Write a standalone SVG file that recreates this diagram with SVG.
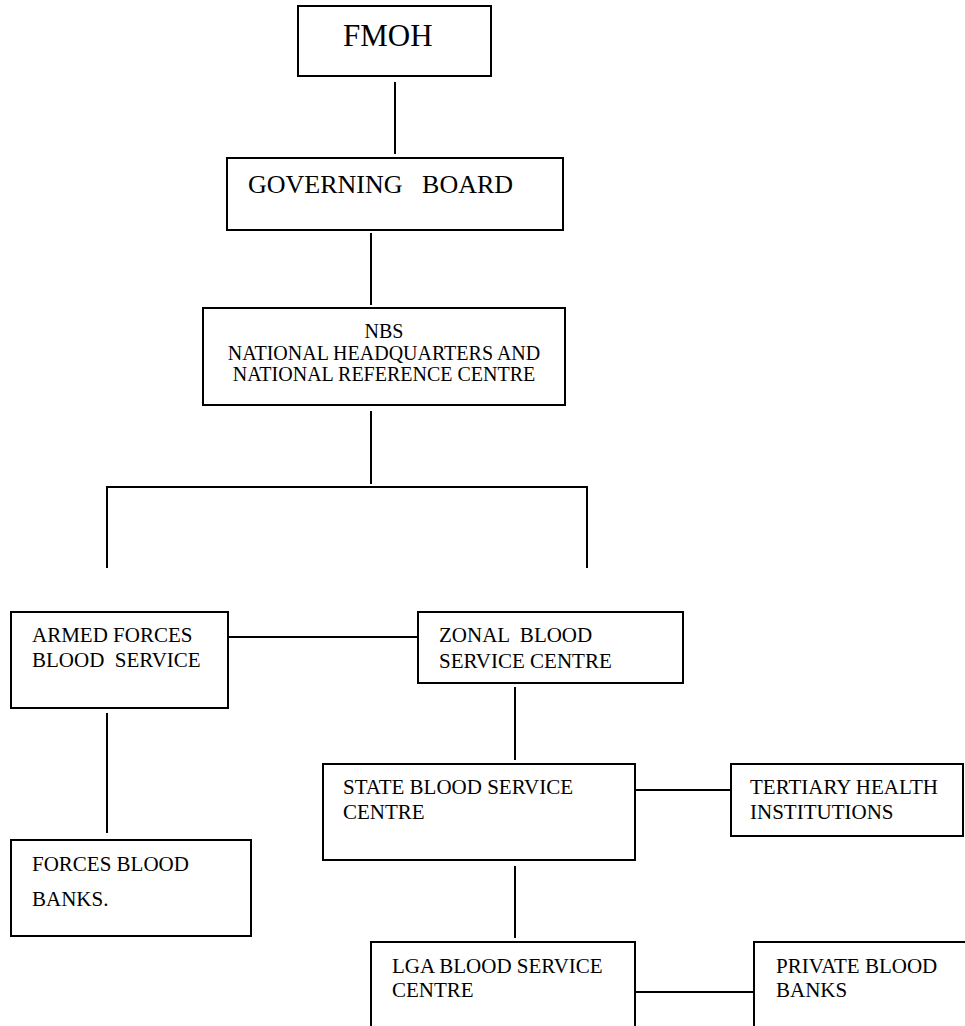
<svg xmlns="http://www.w3.org/2000/svg" width="965" height="1026" viewBox="0 0 965 1026">
<style>
.box{fill:#fff;stroke:#000;stroke-width:2}
.ln{stroke:#000;stroke-width:2;fill:none}
text{font-family:"Liberation Serif","Times New Roman",serif;fill:#000;white-space:pre}
.t{font-size:21px}
</style>
<rect width="965" height="1026" fill="#fff"/>
<g id="connectors">
<line class="ln" x1="395" y1="82" x2="395" y2="154"/>
<line class="ln" x1="371" y1="233" x2="371" y2="305"/>
<line class="ln" x1="371" y1="411" x2="371" y2="484"/>
<polyline class="ln" points="107,568 107,487 587,487 587,568"/>
<line class="ln" x1="228" y1="637" x2="418" y2="637"/>
<line class="ln" x1="107" y1="713" x2="107" y2="833"/>
<line class="ln" x1="515" y1="687" x2="515" y2="760"/>
<line class="ln" x1="635" y1="790" x2="731" y2="790"/>
<line class="ln" x1="515" y1="866" x2="515" y2="938"/>
<line class="ln" x1="635" y1="992" x2="754" y2="992"/>
</g>
<g id="fmoh">
<rect class="box" x="298" y="6" width="193" height="70"/>
<text x="343" y="46" font-size="31">FMOH</text>
</g>
<g id="governing-board">
<rect class="box" x="227" y="158" width="336" height="72"/>
<text x="248" y="193" font-size="26">GOVERNING   BOARD</text>
</g>
<g id="nbs">
<rect class="box" x="203" y="308" width="362" height="97"/>
<text x="384" y="338" font-size="20" text-anchor="middle">NBS</text>
<text x="384" y="360" font-size="20" text-anchor="middle">NATIONAL HEADQUARTERS AND</text>
<text x="384" y="381" font-size="20" text-anchor="middle">NATIONAL REFERENCE CENTRE</text>
</g>
<g id="armed-forces">
<rect class="box" x="11" y="612" width="217" height="96"/>
<text class="t" x="32" y="642">ARMED FORCES</text>
<text class="t" x="32" y="667">BLOOD  SERVICE</text>
</g>
<g id="zonal">
<rect class="box" x="418" y="612" width="265" height="71"/>
<text class="t" x="439" y="642">ZONAL  BLOOD</text>
<text class="t" x="439" y="668">SERVICE CENTRE</text>
</g>
<g id="forces-blood-banks">
<rect class="box" x="11" y="840" width="240" height="96"/>
<text class="t" x="32" y="871">FORCES BLOOD</text>
<text class="t" x="32" y="906">BANKS.</text>
</g>
<g id="state">
<rect class="box" x="323" y="764" width="312" height="96"/>
<text class="t" x="343" y="794">STATE BLOOD SERVICE</text>
<text class="t" x="343" y="819">CENTRE</text>
</g>
<g id="tertiary">
<rect class="box" x="731" y="764" width="232" height="72"/>
<text class="t" x="750" y="794">TERTIARY HEALTH</text>
<text class="t" x="750" y="819">INSTITUTIONS</text>
</g>
<g id="lga">
<path class="ln" d="M371,1030 V942 H635 V1030"/>
<text class="t" x="392" y="973">LGA BLOOD SERVICE</text>
<text class="t" x="392" y="997">CENTRE</text>
</g>
<g id="private">
<path class="ln" d="M754,1030 V942 H967"/>
<text class="t" x="776" y="973">PRIVATE BLOOD</text>
<text class="t" x="776" y="997">BANKS</text>
</g>
</svg>
